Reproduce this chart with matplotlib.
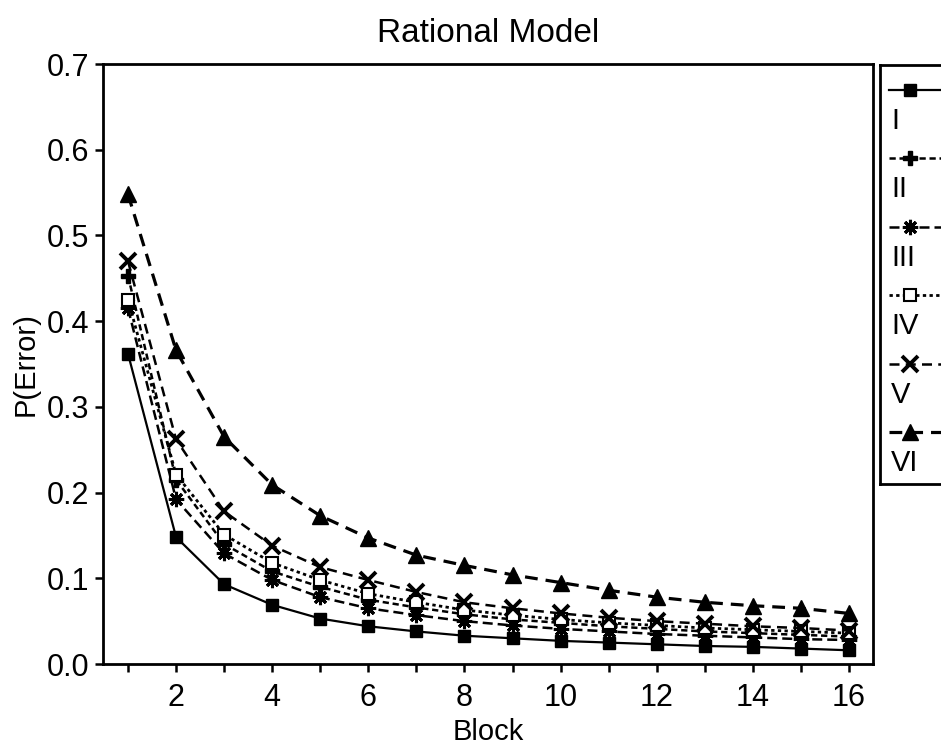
import matplotlib
matplotlib.use("Agg")
import matplotlib.pyplot as plt

plt.rcParams['font.family'] = ['Liberation Sans Narrow', 'Liberation Sans', 'DejaVu Sans']

blocks = list(range(1, 17))
labels = ['I', 'II', 'III', 'IV', 'V', 'VI']

p_I = [0.362, 0.148, 0.093, 0.069, 0.053, 0.044, 0.038, 0.033,
       0.030, 0.027, 0.025, 0.023, 0.021, 0.020, 0.018, 0.016]
p_II = [0.453, 0.215, 0.140, 0.108, 0.090, 0.075, 0.066, 0.058,
        0.052, 0.048, 0.044, 0.041, 0.038, 0.036, 0.034, 0.032]
p_III = [0.415, 0.192, 0.129, 0.098, 0.078, 0.065, 0.057, 0.050,
         0.045, 0.041, 0.038, 0.035, 0.033, 0.031, 0.029, 0.028]
p_IV = [0.425, 0.221, 0.151, 0.118, 0.098, 0.082, 0.072, 0.063,
        0.057, 0.052, 0.048, 0.045, 0.042, 0.040, 0.038, 0.036]
p_V = [0.470, 0.262, 0.178, 0.138, 0.113, 0.098, 0.084, 0.072,
       0.065, 0.059, 0.054, 0.050, 0.047, 0.044, 0.042, 0.039]
p_VI = [0.548, 0.366, 0.265, 0.209, 0.173, 0.147, 0.127, 0.115,
        0.104, 0.095, 0.086, 0.078, 0.072, 0.068, 0.065, 0.059]

series = [p_I, p_II, p_III, p_IV, p_V, p_VI]
styles = [
    dict(ls='-', marker='s', ms=9, mfc='black', lw=1.6),
    dict(ls=(0, (2.5, 1.5)), marker='P', ms=10, mfc='black', lw=1.8),
    dict(ls=(0, (4, 2)), marker=(8, 2, 0), ms=11, mfc='black', lw=1.8, mew=2.2),
    dict(ls=(0, (1.2, 1.2)), marker='s', ms=9, mfc='white', lw=2.0, mew=1.5),
    dict(ls=(0, (4, 2.5)), marker='x', ms=11, mfc='black', lw=1.8, mew=2.8),
    dict(ls=(0, (4, 2.5)), marker='^', ms=12, mfc='black', lw=2.3),
]

fig = plt.figure(figsize=(9.41, 7.46), dpi=100)
ax = fig.add_axes([103 / 941, 1 - 664 / 746, (873 - 103) / 941, 600 / 746])

for vals, st in zip(series, styles):
    ax.plot(blocks, vals, color='black', mec='black', **st)

ax.set_xlim(0.48, 16.5)
ax.set_ylim(0.0, 0.7)
ax.set_xticks(blocks)
ax.set_xticklabels([str(b) if b % 2 == 0 else '' for b in blocks])
ax.set_yticks([0.0, 0.1, 0.2, 0.3, 0.4, 0.5, 0.6, 0.7])
ax.set_yticklabels(['0.0', '0.1', '0.2', '0.3', '0.4', '0.5', '0.6', '0.7'])
ax.tick_params(direction='out', length=6, width=1.8, labelsize=22, pad=4)
ax.tick_params(axis='x', pad=8)
for s in ax.spines.values():
    s.set_linewidth(2.0)

ax.set_xlabel('Block', fontsize=21, labelpad=3)
ax.set_ylabel('P(Error)', fontsize=21, labelpad=5)
ax.set_title('Rational Model', fontsize=24, pad=16)

# legend box: handle row, then label row below it
lax = fig.add_axes([880 / 941, 1 - 484 / 746, 0.2, (484 - 65) / 746])
lax.set_xlim(880, 880 + 0.2 * 941)
lax.set_ylim(484, 65)
lax.set_xticks([])
lax.set_yticks([])
for s in lax.spines.values():
    s.set_linewidth(2.0)
for i, (lab, st) in enumerate(zip(labels, styles)):
    y = 90 + i * 68.4
    st2 = dict(st)
    st2.pop('marker')
    st2.pop('ms')
    st2.pop('mfc')
    st2.pop('mew', None)
    lax.plot([889, 960], [y, y], color='black', **st2)
    lax.plot([910], [y], color='black', mec='black', marker=st['marker'],
             ms=st['ms'], mfc=st['mfc'], mew=st.get('mew', 1))
    lax.text(891, y + 31, lab, fontsize=21, va='center', ha='left')

fig.savefig('out.png', dpi=100)
